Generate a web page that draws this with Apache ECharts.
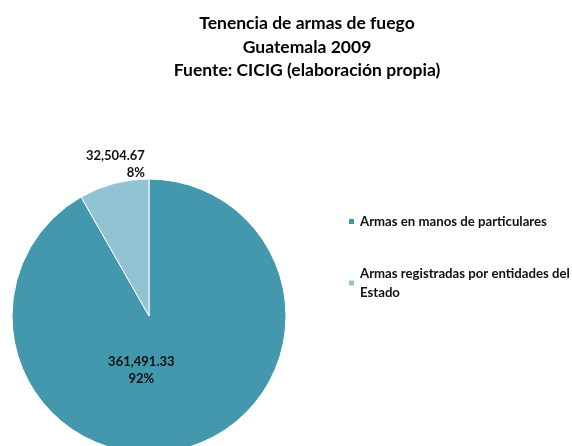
<!DOCTYPE html>
<html>
<head>
<meta charset="utf-8">
<script src="https://cdn.jsdelivr.net/npm/echarts@6/dist/echarts.min.js"></script>
<style>
  html, body { margin: 0; padding: 0; background: #fff; }
  #pieContainer { width: 572px; height: 446px; }
</style>
</head>
<body>
<div id="pieContainer"></div>
<script>
// datos del grafico
var categorias = ['Armas en manos de particulares', 'Armas registradas por entidades del Estado'];
var valores = [361491.33, 32504.67];
var colores = ['#4398ad', '#92c3d3'];

var fuente = 'Lato, "Open Sans", sans-serif';

var datos = [];
for (var i = 0; i < categorias.length; i++) {
    datos.push({ name: categorias[i], value: valores[i], itemStyle: { color: colores[i] } });
}
// etiqueta de la porcion grande va dentro, la pequena fuera
datos[0].label = { position: 'inside', offset: [-26, -15] };
datos[1].label = { position: 'outside', offset: [37, -15] };

function formatoNumero(v) {
    return v.toFixed(2).replace(/\B(?=(\d{3})+(?!\d))/g, ',');
}

var myPieChart = echarts.init(document.getElementById('pieContainer'));

var option = {
    animation: false,
    title: {
        text: 'Tenencia de armas de fuego\nGuatemala 2009\nFuente: CICIG (elaboración propia)',
        left: 302,
        textAlign: 'center',
        top: 7,
        textStyle: {
            fontFamily: fuente,
            fontSize: 17.5,
            fontWeight: 'bold',
            color: '#000',
            lineHeight: 23.5
        }
    },
    legend: {
        orient: 'vertical',
        left: 342,
        top: 207,
        itemWidth: 7,
        itemHeight: 7,
        itemGap: 33,
        icon: 'rect',
        textStyle: {
            fontFamily: fuente,
            fontSize: 13.2,
            fontWeight: 'bold',
            color: '#111',
            lineHeight: 19
        },
        formatter: function (name) {
            return name.replace('entidades del ', 'entidades del\n');
        },
        data: categorias
    },
    series: [
        {
            type: 'pie',
            center: [149, 316],
            radius: 137,
            startAngle: 90,
            clockwise: true,
            percentPrecision: 0,
            avoidLabelOverlap: false,
            itemStyle: { borderColor: '#fff', borderWidth: 1 },
            label: {
                fontFamily: fuente,
                fontSize: 13,
                fontWeight: 'bold',
                color: '#111',
                lineHeight: 17,
                align: 'center',
                formatter: function (p) {
                    return formatoNumero(p.value) + '\n' + p.percent + '%';
                }
            },
            labelLine: { show: false, length: 4, length2: 0 },
            emphasis: { disabled: true },
            data: datos
        }
    ]
};

myPieChart.setOption(option);
</script>
</body>
</html>
